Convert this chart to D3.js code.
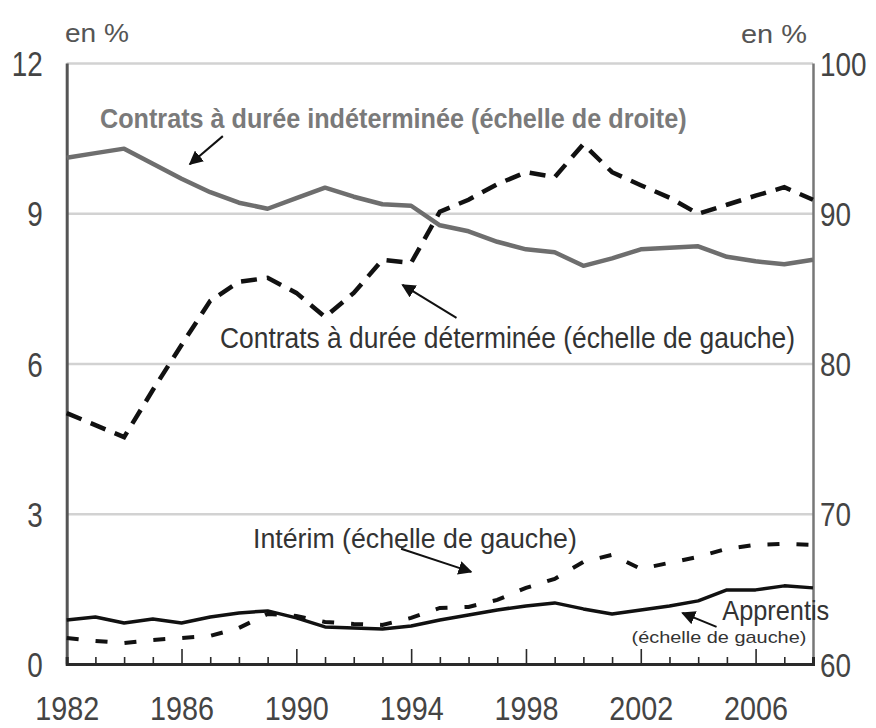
<!DOCTYPE html>
<html>
<head>
<meta charset="utf-8">
<script src="https://cdn.jsdelivr.net/npm/d3@7/dist/d3.min.js"></script>
<style>
  html, body { margin: 0; padding: 0; background: #fff; }
  svg { display: block; }
  text { font-family: "Liberation Sans", sans-serif; }
</style>
</head>
<body>
<svg id="chart" width="876" height="728"></svg>
<script>
// ---------- DATA ----------
const years = d3.range(1982, 2009);
// Contrats à durée indéterminée (échelle de droite, %)
const cdi = [93.7, 94.0, 94.3, 93.3, 92.3, 91.4, 90.7, 90.3, 91.0, 91.7, 91.1, 90.6, 90.5,
             89.2, 88.8, 88.1, 87.6, 87.4, 86.5, 87.0, 87.6, 87.7, 87.8, 87.1, 86.8, 86.6, 86.9];
// Contrats à durée déterminée (échelle de gauche, %)
const cdd = [5.01, 4.77, 4.53, 5.47, 6.37, 7.25, 7.63, 7.71, 7.41, 6.93, 7.41, 8.07, 8.01,
             9.03, 9.27, 9.58, 9.82, 9.72, 10.38, 9.82, 9.56, 9.31, 8.99, 9.17, 9.35, 9.52, 9.27];
// Intérim (échelle de gauche, %)
const interim = [0.52, 0.46, 0.42, 0.48, 0.52, 0.56, 0.72, 1.00, 0.96, 0.84, 0.80, 0.78, 0.92,
                 1.12, 1.14, 1.28, 1.52, 1.70, 2.04, 2.18, 1.90, 2.02, 2.14, 2.30, 2.38, 2.40, 2.38];
// Apprentis (échelle de gauche, %)
const apprentis = [0.88, 0.94, 0.82, 0.90, 0.82, 0.94, 1.02, 1.06, 0.92, 0.74, 0.72, 0.70, 0.76,
                   0.88, 0.98, 1.08, 1.16, 1.22, 1.10, 1.00, 1.08, 1.16, 1.26, 1.48, 1.48, 1.56, 1.52];

const leftTicks = [0, 3, 6, 9, 12];
const rightTicks = [60, 70, 80, 90, 100];
const yearLabels = [1982, 1986, 1990, 1994, 1998, 2002, 2006];
const majorTickYears = [1986, 1990, 1994, 1998, 2002, 2006];
const unitLabel = "en %";

// annotations in data space (year, left-scale value)
const annotations = [
  {text: "Contrats à durée indéterminée (échelle de droite)", year: 1983.16, val: 10.70, len: 587, size: 28, weight: "bold", fill: "#7a7a7a"},
  {text: "Contrats à durée déterminée (échelle de gauche)", year: 1987.34, val: 6.31, len: 575, size: 30, weight: "normal", fill: "#333"},
  {text: "Intérim (échelle de gauche)", year: 1988.49, val: 2.32, len: 324, size: 28, weight: "normal", fill: "#333"},
  {text: "Apprentis", year: 2004.84, val: 0.88, len: 107, size: 27, weight: "normal", fill: "#333"},
  {text: "(échelle de gauche)", year: 2001.68, val: 0.42, len: 175, size: 16, weight: "normal", fill: "#333"}
];
const arrows = [
  {from: [1987.44, 10.54], to: [1986.29, 9.98]},
  {from: [1995.58, 6.91], to: [1993.70, 7.57]},
  {from: [1993.65, 2.30], to: [1996.09, 1.84]},
  {from: [2004.64, 0.74], to: [2003.45, 1.02]}
];

// ---------- SCALES ----------
const svg = d3.select("#chart");
const x = d3.scaleLinear().domain([1982, 2008]).range([66.7, 813]);
const yL = d3.scaleLinear().domain([0, 12]).range([664, 63]);
const yR = d3.scaleLinear().domain([60, 100]).range([664, 63]);

// condensed look for axis labels: squeeze each label to a per-character width
const squeeze = (sel, perChar) => sel.each(function() {
  const t = d3.select(this);
  t.attr("textLength", t.text().length * perChar).attr("lengthAdjust", "spacingAndGlyphs");
});
// condensed free text: horizontal scale transform so that width = target
function condensedText(px, py, str, width, size, weight, fill) {
  const t = svg.append("text").attr("x", 0).attr("y", 0)
    .attr("font-size", size).attr("font-weight", weight).attr("fill", fill).text(str);
  const natural = t.node().getComputedTextLength();
  t.attr("transform", `translate(${px},${py}) scale(${width / natural},1)`);
  return t;
}

// gridlines
svg.append("g")
  .attr("transform", `translate(${x(1982)},0)`)
  .call(d3.axisLeft(yL).tickValues([3, 6, 9, 12]).tickSize(-(x(2008) - x(1982))).tickFormat(""))
  .call(g => g.select(".domain").remove())
  .call(g => g.selectAll(".tick line").attr("stroke", "#d2d2d2").attr("stroke-width", 2.5));

// left axis
svg.append("g")
  .attr("transform", `translate(${x(1982)},0)`)
  .call(d3.axisLeft(yL).tickValues(leftTicks).tickSize(0).tickPadding(24).tickFormat(d3.format("d")))
  .call(g => g.select(".domain").attr("stroke", "#555").attr("stroke-width", 3))
  .call(g => g.selectAll("text").attr("font-size", 35).attr("fill", "#444").attr("dy", "0.36em")
               .style("font-family", '"Liberation Sans",sans-serif').call(squeeze, 15.5));

// right axis
svg.append("g")
  .attr("transform", `translate(${x(2008)},0)`)
  .call(d3.axisRight(yR).tickValues(rightTicks).tickSize(0).tickPadding(7).tickFormat(d3.format("d")))
  .call(g => g.select(".domain").attr("stroke", "#777").attr("stroke-width", 2.5))
  .call(g => g.selectAll("text").attr("font-size", 33).attr("fill", "#444").attr("dy", "0.37em")
               .style("font-family", '"Liberation Sans",sans-serif').call(squeeze, 15.5));

// bottom axis: ticks pointing up
const bottom = svg.append("g").attr("transform", `translate(0,${yL(0)})`);
bottom.call(d3.axisTop(x).tickValues(years.slice(1)).tickSize(7).tickFormat(""))
  .call(g => g.select(".domain").attr("stroke", "#2a2a2a").attr("stroke-width", 3))
  .call(g => g.selectAll(".tick line").attr("stroke", "#2a2a2a").attr("stroke-width", 1.6)
               .attr("y2", d => majorTickYears.includes(d) ? -15 : -7));
svg.append("g").attr("transform", `translate(0,${yL(0)})`)
  .call(d3.axisBottom(x).tickValues(yearLabels).tickSize(0).tickFormat(d3.format("d")))
  .call(g => g.select(".domain").remove())
  .call(g => g.selectAll("text").attr("y", 56).attr("dy", 0).attr("font-size", 34).attr("fill", "#444")
               .style("font-family", '"Liberation Sans",sans-serif').call(squeeze, 16));

// unit labels
condensedText(65, 42, unitLabel, 64, 26, "normal", "#555");
condensedText(741, 43, unitLabel, 66, 26, "normal", "#555");

// ---------- LINES ----------
const lineL = vals => d3.line().x((d, i) => x(years[i])).y(d => yL(d))(vals);
const lineR = vals => d3.line().x((d, i) => x(years[i])).y(d => yR(d))(vals);

svg.append("path").attr("d", lineR(cdi)).attr("fill", "none")
  .attr("stroke", "#6e6e6e").attr("stroke-width", 4.5).attr("stroke-linejoin", "round");
svg.append("path").attr("d", lineL(cdd)).attr("fill", "none")
  .attr("stroke", "#111").attr("stroke-width", 4.5).attr("stroke-dasharray", "16,10");
svg.append("path").attr("d", lineL(interim)).attr("fill", "none")
  .attr("stroke", "#111").attr("stroke-width", 4).attr("stroke-dasharray", "12,17");
svg.append("path").attr("d", lineL(apprentis)).attr("fill", "none")
  .attr("stroke", "#111").attr("stroke-width", 3.5).attr("stroke-linejoin", "round");

// ---------- ANNOTATIONS ----------
svg.append("defs").append("marker")
  .attr("id", "arrowhead").attr("viewBox", "0 0 10 10").attr("refX", 9).attr("refY", 5)
  .attr("markerWidth", 14).attr("markerHeight", 14).attr("markerUnits", "userSpaceOnUse")
  .attr("orient", "auto")
  .append("path").attr("d", "M0,0 L10,5 L0,10 z").attr("fill", "#111");

arrows.forEach(a => {
  svg.append("line")
    .attr("x1", x(a.from[0])).attr("y1", yL(a.from[1]))
    .attr("x2", x(a.to[0])).attr("y2", yL(a.to[1]))
    .attr("stroke", "#111").attr("stroke-width", 2).attr("marker-end", "url(#arrowhead)");
});

annotations.forEach(a => {
  condensedText(x(a.year), yL(a.val), a.text, a.len, a.size, a.weight, a.fill);
});
</script>
</body>
</html>
